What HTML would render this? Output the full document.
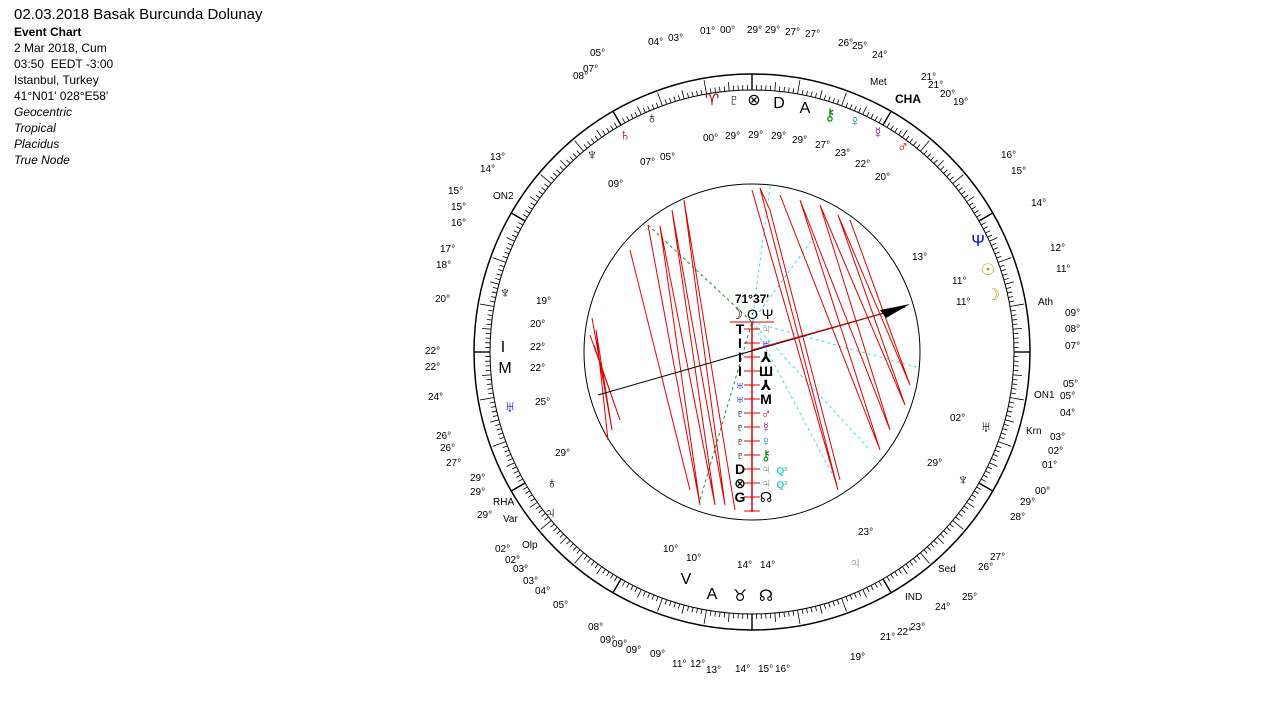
<!DOCTYPE html>
<html><head><meta charset="utf-8"><style>
body{margin:0;background:#fff;width:1267px;height:701px;overflow:hidden;font-family:"Liberation Sans","DejaVu Sans",sans-serif}
.hd{position:absolute;left:14px;top:6px;font-size:12px;line-height:16px;color:#000}
.hd i{color:#000}
svg{position:absolute;left:0;top:0}
</style></head><body>
<div class="hd"><div style="font-size:15px;line-height:18px">02.03.2018 Basak Burcunda Dolunay</div><b>Event Chart</b><br>2 Mar 2018, Cum<br>03:50&nbsp; EEDT -3:00<br>Istanbul, Turkey<br>41°N01' 028°E58'<br><i>Geocentric</i><br><i>Tropical</i><br><i>Placidus</i><br><i>True Node</i></div>
<svg width="1267" height="701" viewBox="0 0 1267 701" font-family="Liberation Sans, DejaVu Sans, sans-serif">
<g fill="none" stroke="#000">
<circle cx="752" cy="352" r="278" stroke-width="1.5"/>
<circle cx="752" cy="352" r="262" stroke-width="1"/>
<circle cx="752" cy="352" r="168" stroke-width="1"/>
<g id="ticks"></g>
</g>
<g stroke="#4dd" stroke-dasharray="3,3" fill="none">
<path d="M770 186 L752 322 L812 240 M752 322 L920 368 M752 322 L838 485 M752 322 L870 450"/>
</g>
<g stroke="#283" stroke-dasharray="3,3" fill="none"><path d="M648 225 L752 322 L700 500"/></g>
<g stroke="#d00" stroke-width="1" fill="none">
<path d="M592 318 L612 430 L596 330 L608 440 M590 335 L620 420 L594 345"/>
<path d="M648 225 L700 505 L660 226 L715 505 L672 210 L725 505 L684 200 L735 510"/>
<path d="M752 190 L838 490 L760 188 L770 210 L840 480"/>
<path d="M780 195 L880 450 L800 200 L890 430 L820 205 L905 405 L838 215 L910 385 L850 220"/>
<path d="M630 250 L690 490"/>
<line x1="752" y1="322" x2="752" y2="512" stroke-width="1.5"/>
<line x1="730" y1="322" x2="774" y2="322"/>
<g id="rt"></g>
</g>
<line x1="598" y1="395" x2="905" y2="307" stroke="#000"/>
<line x1="752" y1="350" x2="905" y2="307" stroke="#d00"/>
<polygon points="910,304 880,310 886,318" fill="#000"/>
<text x="752" y="303" font-size="12" font-weight="bold" text-anchor="middle">71°37'</text>
<text x="752" y="319" font-size="14" text-anchor="middle">☽ ʘ Ψ</text>
<g font-size="14" font-weight="bold" text-anchor="middle">
<text x="740" y="334">T</text><text x="740" y="348">I</text><text x="740" y="362">I</text><text x="740" y="376">I</text>
<text x="740" y="390" fill="#00c">♅</text><text x="740" y="404" fill="#00c">♅</text><text x="740" y="418">♇</text><text x="740" y="432">♇</text><text x="740" y="446">♇</text><text x="740" y="460">♇</text><text x="740" y="474">D</text><text x="740" y="488">⊗</text><text x="740" y="502">G</text>
<text x="766" y="334" fill="#888">♃</text><text x="766" y="348" fill="#00c">♅</text><text x="766" y="362">⅄</text><text x="766" y="376">Ш</text><text x="766" y="390">⅄</text><text x="766" y="404">M</text><text x="766" y="418" fill="#d00">♂</text><text x="766" y="432" fill="#808">☿</text><text x="766" y="446" fill="#088">♀</text><text x="766" y="460" fill="#080">⚷</text><text x="766" y="474" fill="#888">♃</text><text x="766" y="488" fill="#888">♃</text><text x="766" y="502">☊</text>
<text x="782" y="474" fill="#3cc" font-size="10">Q²</text><text x="782" y="488" fill="#3cc" font-size="10">Q²</text>
</g>
<g font-size="10" fill="#000">
<text x="703" y="141">00°</text><text x="725" y="139">29°</text><text x="748" y="138">29°</text><text x="771" y="139">29°</text><text x="792" y="143">29°</text><text x="815" y="148">27°</text><text x="835" y="156">23°</text><text x="855" y="167">22°</text><text x="875" y="180">20°</text>
<text x="660" y="160">05°</text><text x="640" y="165">07°</text><text x="608" y="187">09°</text>
<text x="912" y="260">13°</text><text x="952" y="284">11°</text><text x="956" y="305">11°</text>
<text x="536" y="304">19°</text><text x="530" y="327">20°</text><text x="530" y="350">22°</text><text x="530" y="371">22°</text><text x="535" y="405">25°</text>
<text x="555" y="456">29°</text><text x="663" y="552">10°</text><text x="686" y="561">10°</text><text x="737" y="568">14°</text><text x="760" y="568">14°</text>
<text x="858" y="535">23°</text><text x="927" y="466">29°</text><text x="950" y="421">02°</text>
<text x="706" y="673">13°</text><text x="735" y="672">14°</text><text x="758" y="672">15°</text><text x="775" y="672">16°</text><text x="672" y="667">11°</text><text x="690" y="667">12°</text><text x="650" y="657">09°</text>
<text x="1038" y="305">Ath</text><text x="1034" y="398">ON1</text><text x="1026" y="434">Krn</text><text x="938" y="572">Sed</text><text x="905" y="600">IND</text><text x="493" y="505">RHA</text><text x="503" y="522">Var</text><text x="522" y="548">Olp</text><text x="870" y="85">Met</text><text x="895" y="103" font-weight="bold" font-size="12">CHA</text><text x="493" y="199">ON2</text>
<text x="435" y="302">20°</text><text x="425" y="354">22°</text><text x="425" y="370">22°</text><text x="428" y="400">24°</text><text x="436" y="439">26°</text><text x="440" y="451">26°</text><text x="446" y="466">27°</text>
<text x="448" y="194">15°</text><text x="451" y="210">15°</text><text x="451" y="226">16°</text><text x="440" y="252">17°</text><text x="436" y="268">18°</text><text x="490" y="160">13°</text><text x="480" y="172">14°</text>
<text x="1050" y="251">12°</text><text x="1056" y="272">11°</text><text x="1065" y="316">09°</text><text x="1065" y="332">08°</text><text x="1065" y="349">07°</text><text x="1063" y="387">05°</text><text x="1060" y="399">05°</text><text x="1060" y="416">04°</text>
<text x="1031" y="206">14°</text><text x="1001" y="158">16°</text><text x="1011" y="174">15°</text><text x="921" y="80">21°</text><text x="928" y="88">21°</text><text x="940" y="97">20°</text><text x="953" y="105">19°</text>
<text x="648" y="45">04°</text><text x="668" y="41">03°</text><text x="700" y="34">01°</text><text x="720" y="33">00°</text><text x="747" y="33">29°</text><text x="765" y="33">29°</text><text x="785" y="35">27°</text><text x="805" y="37">27°</text><text x="838" y="46">26°</text><text x="852" y="49">25°</text><text x="872" y="58">24°</text>
<text x="590" y="56">05°</text><text x="583" y="72">07°</text><text x="573" y="79">08°</text>
<text x="588" y="630">08°</text><text x="600" y="643">09°</text><text x="612" y="647">09°</text><text x="626" y="653">09°</text><text x="850" y="660">19°</text><text x="880" y="640">21°</text><text x="897" y="635">22°</text><text x="910" y="630">23°</text><text x="935" y="610">24°</text><text x="962" y="600">25°</text><text x="978" y="570">26°</text><text x="990" y="560">27°</text><text x="1010" y="520">28°</text><text x="1020" y="505">29°</text><text x="1035" y="494">00°</text><text x="1042" y="468">01°</text><text x="1048" y="454">02°</text><text x="1050" y="440">03°</text>
<text x="495" y="552">02°</text><text x="505" y="563">02°</text><text x="513" y="572">03°</text><text x="523" y="584">03°</text><text x="535" y="594">04°</text><text x="553" y="608">05°</text><text x="470" y="481">29°</text><text x="470" y="495">29°</text><text x="477" y="518">29°</text>
</g>
<g font-size="16" text-anchor="middle">
<text x="712" y="105" fill="#a00">♈</text><text x="734" y="105">♇</text><text x="754" y="105">⊗</text><text x="779" y="108">D</text><text x="805" y="113">A</text><text x="830" y="120" fill="#080">⚷</text><text x="855" y="126" fill="#088">♀</text><text x="878" y="138" fill="#808">☿</text><text x="903" y="152" fill="#c00">♂</text>
<text x="625" y="140" fill="#800">♄</text><text x="652" y="123">♁</text><text x="592" y="160">♆</text>
<text x="978" y="246" fill="#00c">Ψ</text><text x="988" y="275" fill="#aa0">☉</text><text x="993" y="300" fill="#aa0">☽</text>
<text x="505" y="298">♆</text><text x="503" y="352">I</text><text x="505" y="373">M</text><text x="510" y="412" fill="#00c">♅</text><text x="552" y="488">♁</text><text x="550" y="518">♃</text>
<text x="686" y="584">V</text><text x="712" y="599">A</text><text x="740" y="601">♉</text><text x="766" y="601">☊</text><text x="855" y="568" fill="#888">♃</text><text x="963" y="485">♆</text><text x="986" y="432">♅</text>
</g>
</svg>
<script>
var g=document.getElementById('ticks'),s='';
for(var i=0;i<360;i++){var a=i*Math.PI/180,l=i%10==0?14:(i%5==0?9:5);
var c=Math.cos(a),n=Math.sin(a);
s+='<line x1="'+(752+c*262)+'" y1="'+(352+n*262)+'" x2="'+(752+c*(262+l))+'" y2="'+(352+n*(262+l))+'" stroke-width="0.8"/>';
if(i%30==0){s+='<line x1="'+(752+c*262)+'" y1="'+(352+n*262)+'" x2="'+(752+c*278)+'" y2="'+(352+n*278)+'" stroke-width="1.4"/>';}}
g.innerHTML=s;
var r=document.getElementById('rt'),t='';
for(var y=329;y<512;y+=14){t+='<line x1="744" y1="'+y+'" x2="760" y2="'+y+'"/>';}
r.innerHTML=t;
</script>
</body></html>
